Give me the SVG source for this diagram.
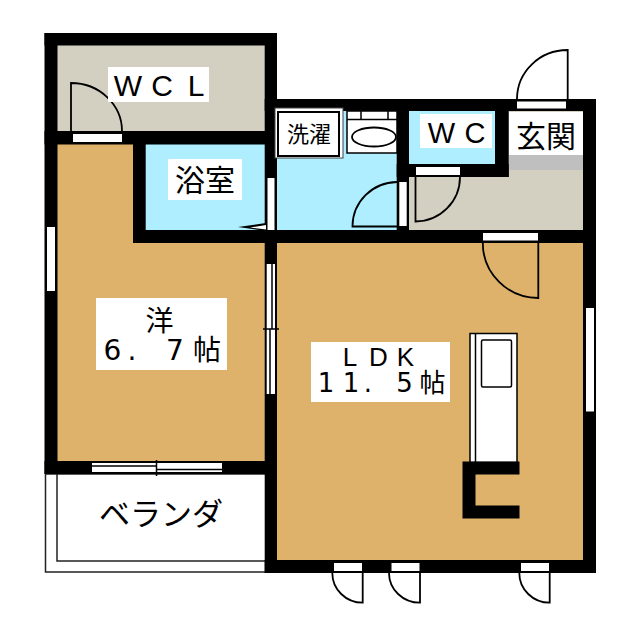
<svg xmlns="http://www.w3.org/2000/svg" width="640" height="640" viewBox="0 0 640 640">
<style>
.w{fill:#000}.o{fill:#fff}.d{fill:none;stroke:#000;stroke-width:1.800}.s{fill:none;stroke:#000;stroke-width:1.500}
.t{font-family:"Noto Sans CJK JP",sans-serif;fill:#000;text-anchor:middle}
.a{font-family:"Liberation Sans",sans-serif;fill:#000;text-anchor:middle}
.n{font-family:"DejaVu Sans","Noto Sans CJK JP",sans-serif;fill:#000;text-anchor:middle}
</style>
<rect width="640" height="640" fill="#fff"/>
<g id="floors">
<rect x="50" y="40" width="220" height="100" fill="#d3d0c2"/>
<rect x="50" y="140" width="220" height="325" fill="#dfb26c"/>
<rect x="140" y="140" width="130" height="95" fill="#aeeefe"/>
<rect x="270" y="105" width="130" height="130" fill="#aeeefe"/>
<rect x="403" y="105" width="185" height="130" fill="#d3d0c2"/>
<rect x="403" y="105" width="95" height="65" fill="#aeeefe"/>
<rect x="270" y="238" width="318" height="328" fill="#dfb26c"/>
</g>
<g id="veranda">
<path d="M265 474H45.500V572H265" fill="#fff" stroke="#222" stroke-width="1.500"/>
<path d="M57 474V561H265" fill="none" stroke="#222" stroke-width="1.500"/>
</g>
<g id="walls" class="w">
<rect x="44.500" y="33" width="232.500" height="12.500"/>
<rect x="44.500" y="33" width="13" height="441"/>
<rect x="264.700" y="33" width="12.300" height="540"/>
<rect x="44.500" y="131" width="232.500" height="13.500"/>
<rect x="133" y="131" width="12.700" height="112"/>
<rect x="133" y="230" width="463" height="13"/>
<rect x="264.700" y="99" width="331.300" height="12"/>
<rect x="583" y="99" width="13" height="474"/>
<rect x="264.700" y="560" width="331.300" height="13"/>
<rect x="44.500" y="461" width="232.500" height="13"/>
<rect x="396.700" y="99" width="12.300" height="144"/>
<rect x="396.700" y="164" width="112" height="13"/>
<rect x="495" y="99" width="13.700" height="78"/>
</g>
<g id="entry-step"><rect x="509" y="155" width="74" height="15" fill="#bfbfbf"/><rect x="509" y="112" width="74" height="43" fill="#fff"/></g>
<g id="windows">
<rect class="o" x="73" y="134" width="49" height="8"/>
<rect class="o" x="47" y="227" width="8" height="64"/>
<rect class="o" x="267.500" y="178" width="7" height="52"/>
<rect class="o" x="416" y="167" width="44" height="8"/>
<rect class="o" x="399.300" y="182" width="7.400" height="44"/>
<rect class="o" x="517" y="101.500" width="49" height="7"/>
<rect class="o" x="483" y="233" width="55" height="7.500"/>
<rect class="o" x="586" y="308" width="8" height="103.500"/>
<rect class="o" x="334" y="563" width="28" height="8"/>
<rect class="o" x="391.500" y="563" width="28" height="8"/>
<rect class="o" x="521" y="563" width="28" height="8"/>
<rect class="o" x="92" y="463" width="130" height="9"/>
<rect class="o" x="266.700" y="264" width="8.300" height="130"/>
<path class="s" d="M92 466H157M157 469.500H222M156.500 460V476"/>
<path class="s" d="M272 264V329M270 329V394M263 329H279"/>
</g>
<g id="doors">
<path class="d" d="M71 131V83A51 48 0 0 1 122 131"/>
<path d="M238 227L266 223V231Z" fill="#000"/><path d="M250 227.500L266 225V229.500Z" fill="#fff"/>
<path class="d" d="M397 226.500H352.500A45 44.500 0 0 1 397 182"/>
<path class="d" d="M415.500 177V221.500A44.500 44.500 0 0 0 460 177"/>
<path class="d" d="M567.700 99V50A50.500 49 0 0 0 517 99"/>
<path class="d" d="M538.300 243V298A55.500 55 0 0 1 482.800 243"/>
<path class="d" d="M362.700 573V602.700A30.400 29.700 0 0 1 332.300 573"/>
<path class="d" d="M420 573V602.700A31 29.700 0 0 1 389 573"/>
<path class="d" d="M549.700 573V602.700A30.400 29.700 0 0 1 519.300 573"/>
</g>
<g id="washer"><rect x="275" y="108" width="68" height="50" fill="#fff" stroke="#444" stroke-width="1"/><rect x="278" y="112" width="61" height="44" fill="#fff" stroke="#000" stroke-width="2"/></g>
<g id="basin">
<rect x="347" y="111" width="50" height="42" fill="#fff" stroke="#000" stroke-width="1.500"/>
<path class="s" d="M347 119.500H397M361 111V119.500M388 111V119.500"/>
<ellipse cx="374" cy="137" rx="22" ry="9.500" fill="#fff" stroke="#000" stroke-width="1.800"/>
</g>
<g id="kitchen">
<rect x="470" y="333.500" width="47" height="129" fill="#fff" stroke="#000" stroke-width="1.500"/>
<path class="s" d="M475.500 333.500V462"/>
<rect x="481.500" y="340" width="30" height="47" rx="1.500" fill="#fff" stroke="#000" stroke-width="1.500"/>
<path class="w" d="M462.500 461.500H519.500V474.500H475.500V505.500H519.500V518.500H462.500Z"/>
</g>
<g id="labels">
<g id="label-wcl"><rect class="o" x="108" y="67" width="101" height="35"/><text class="a" font-size="30" y="95.500" x="128 162 196">WCL</text></g>
<g id="label-bath"><rect class="o" x="168" y="159" width="74" height="41"/><text class="t" x="205" y="191" font-size="30">浴室</text></g>
<g id="label-washer"><text class="t" x="309" y="142" font-size="22">洗濯</text></g>
<g id="label-wc"><rect class="o" x="420" y="114" width="72" height="34"/><text class="a" font-size="29" y="142.500" x="441.500 475">WC</text></g>
<g id="label-entry"><text class="t" x="546" y="147" font-size="30">玄関</text></g>
<g id="label-west"><rect class="o" x="96" y="298" width="131" height="72"/><text class="t" x="159.500" y="331" font-size="28">洋</text><text class="n" font-size="28" y="360" x="112.500 132 175 207">6.7帖</text></g>
<g id="label-ldk"><rect class="o" x="311" y="342" width="139" height="60"/><text class="a" font-size="26" y="366" x="350 378.500 405.500">LDK</text><text class="n" font-size="26" y="392" x="326 351 368 404.500 432.500">11.5帖</text></g>
<g id="label-veranda"><text class="t" x="161" y="525" font-size="31">ベランダ</text></g>
</g>
</svg>
